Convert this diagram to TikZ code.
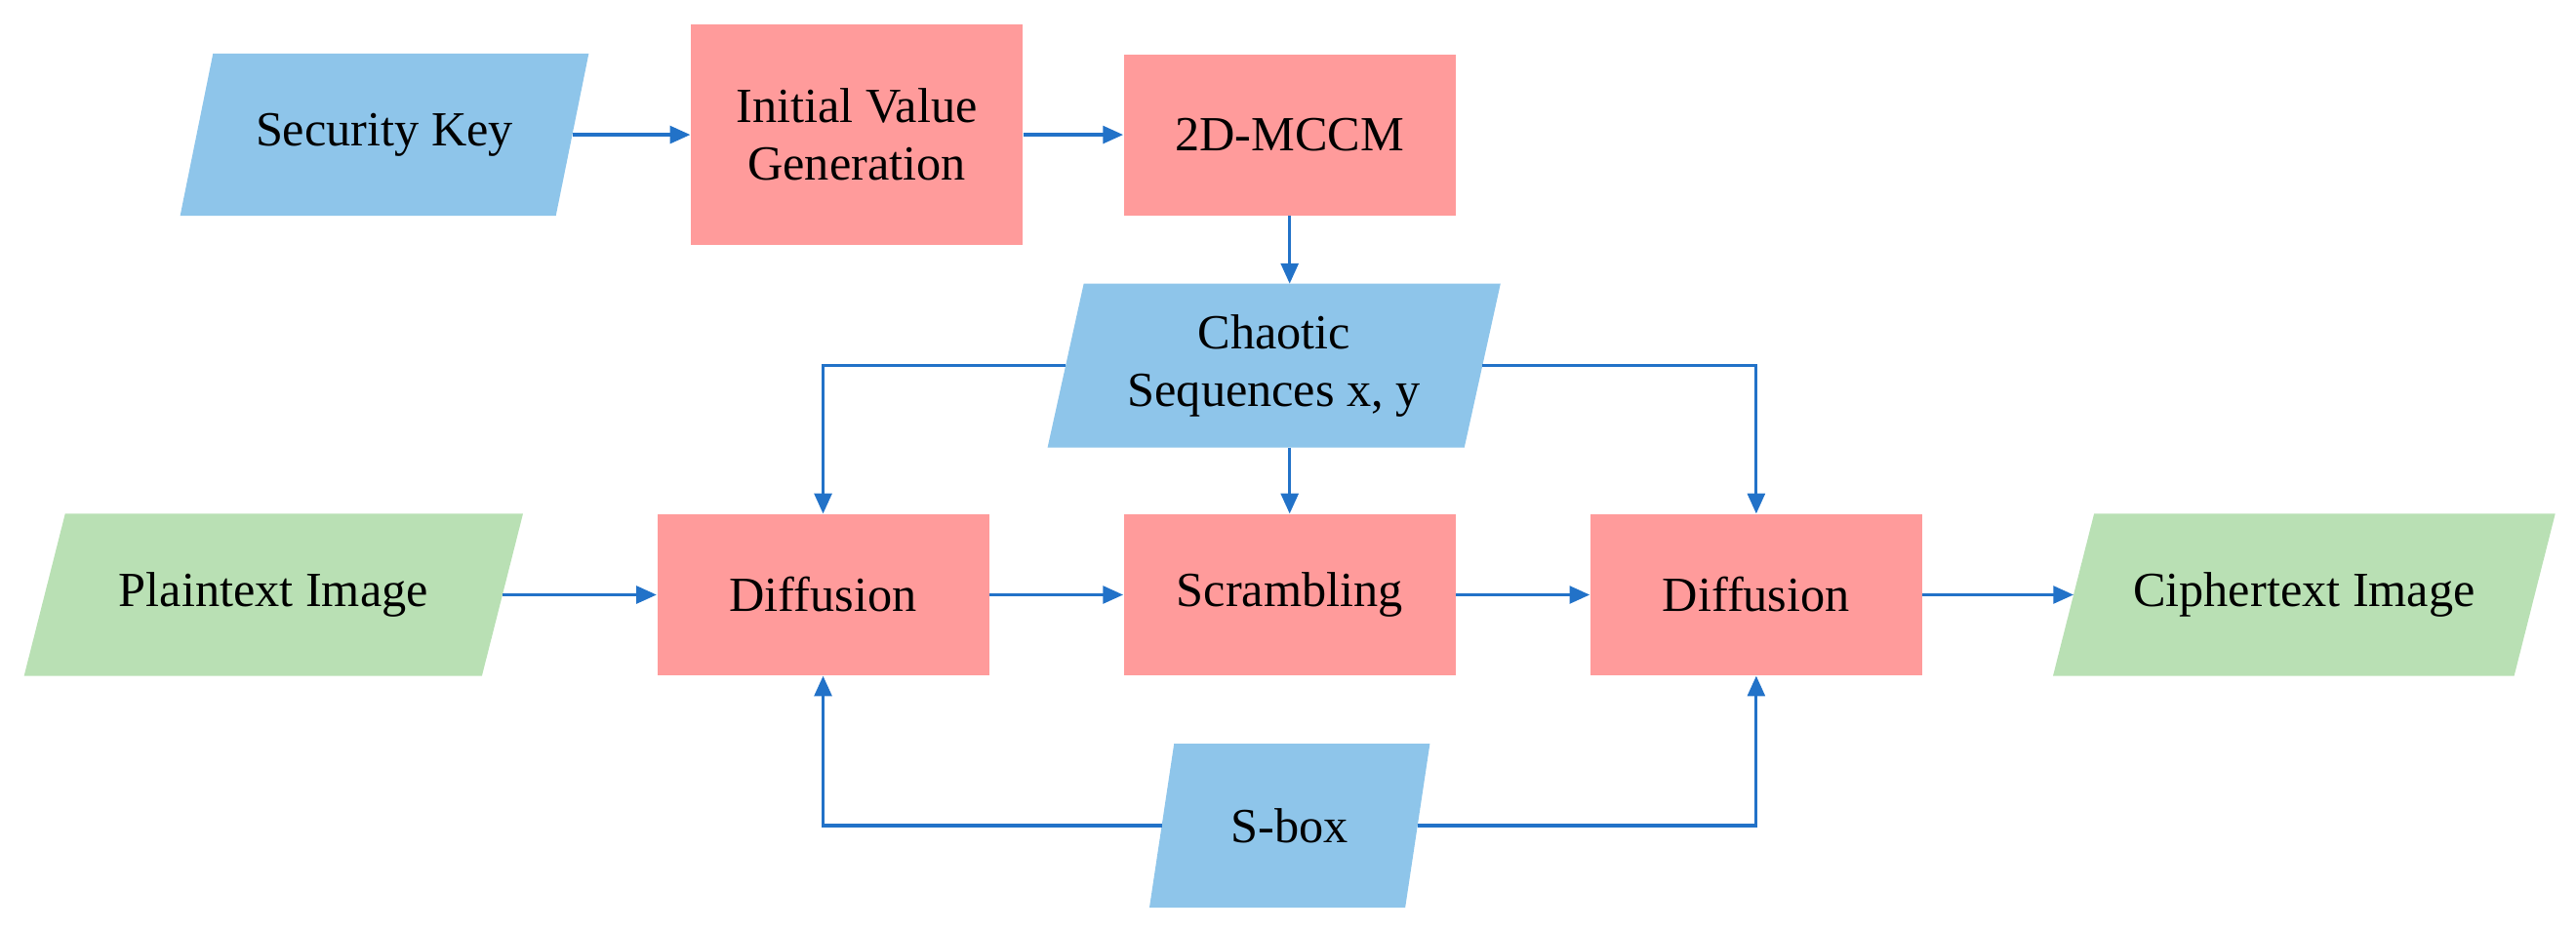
\documentclass[tikz,border=0pt]{standalone}
\usepackage{fontspec}
\setmainfont{Liberation Serif}
\usetikzlibrary{arrows.meta,backgrounds}
\definecolor{kblue}{HTML}{8EC5EA}
\definecolor{kpink}{HTML}{FF9B9B}
\definecolor{kgreen}{HTML}{B9E0B4}
\definecolor{karrow}{HTML}{2272C8}
\begin{document}
\begin{tikzpicture}[x=0.02cm,y=-0.02cm,
  box/.style={fill=kpink,minimum width=4.04cm,minimum height=1.96cm,inner sep=0pt,align=center,font=\fontsize{17}{20}\selectfont},
  para/.style={inner sep=0pt,align=center,font=\fontsize{17}{20}\selectfont},
  arr/.style={draw=karrow,line width=1.1pt,-{Triangle[length=7pt,width=6pt]}},
  ln/.style={draw=karrow,line width=1.1pt}]
\useasboundingbox (0,0) rectangle (1568,566);
\newcommand{\mypara}[7]{% name, cx, cy, midwidth(units), height, slant, color, text
  \node[para,minimum width=#4*0.02cm,minimum height=#5*0.02cm] (#1) at (#2,#3) {};
  \begin{scope}[on background layer]
  \fill[#7] ([xshift=#6*0.02cm]#1.north west) -- ([xshift=#6*0.02cm]#1.north east) -- ([xshift=-#6*0.02cm]#1.south east) -- ([xshift=-#6*0.02cm]#1.south west) -- cycle;
  \end{scope}}
\mypara{sk}{234}{82}{228}{98}{10}{kblue}
\node[para] at (sk) {Security Key};
\node[box,minimum height=2.68cm] (ivg) at (521.5,82) {Initial Value\\Generation};
\node[box] (mccm) at (785,82) {2D-MCCM};
\mypara{cs}{775.5}{222.5}{253}{99}{11}{kblue}
\node[para] at (cs) {Chaotic\\Sequences x, y};
\mypara{pt}{166.5}{362}{278}{98}{12.5}{kgreen}
\node[para] at (pt) {Plaintext Image};
\node[box] (d1) at (501,362) {Diffusion};
\node[box] (sc) at (785,362) {Scrambling};
\node[box] (d2) at (1069,362) {Diffusion};
\mypara{ct}{1402.5}{362}{280}{98}{12.5}{kgreen}
\node[para] at (ct) {Ciphertext Image};
\mypara{sb}{785}{502.5}{155}{99}{7.5}{kblue}
\node[para] at (sb) {S-box};
\draw[arr] (sk.east) -- (ivg.west);
\draw[arr] (ivg.east|-mccm.west) -- (mccm.west);
\draw[arr] (mccm.south) -- (mccm.south|-cs.north);
\draw[arr] (cs.south-|sc.north) -- (sc.north);
\draw[arr] (cs.west) -| (d1.north);
\draw[arr] (cs.east) -| (d2.north);
\draw[arr] (pt.east) -- (d1.west);
\draw[arr] (d1.east) -- (sc.west);
\draw[arr] (sc.east) -- (d2.west);
\draw[arr] (d2.east) -- (ct.west);
\draw[arr] (sb.west) -| (d1.south);
\draw[arr] (sb.east) -| (d2.south);
\end{tikzpicture}
\end{document}
